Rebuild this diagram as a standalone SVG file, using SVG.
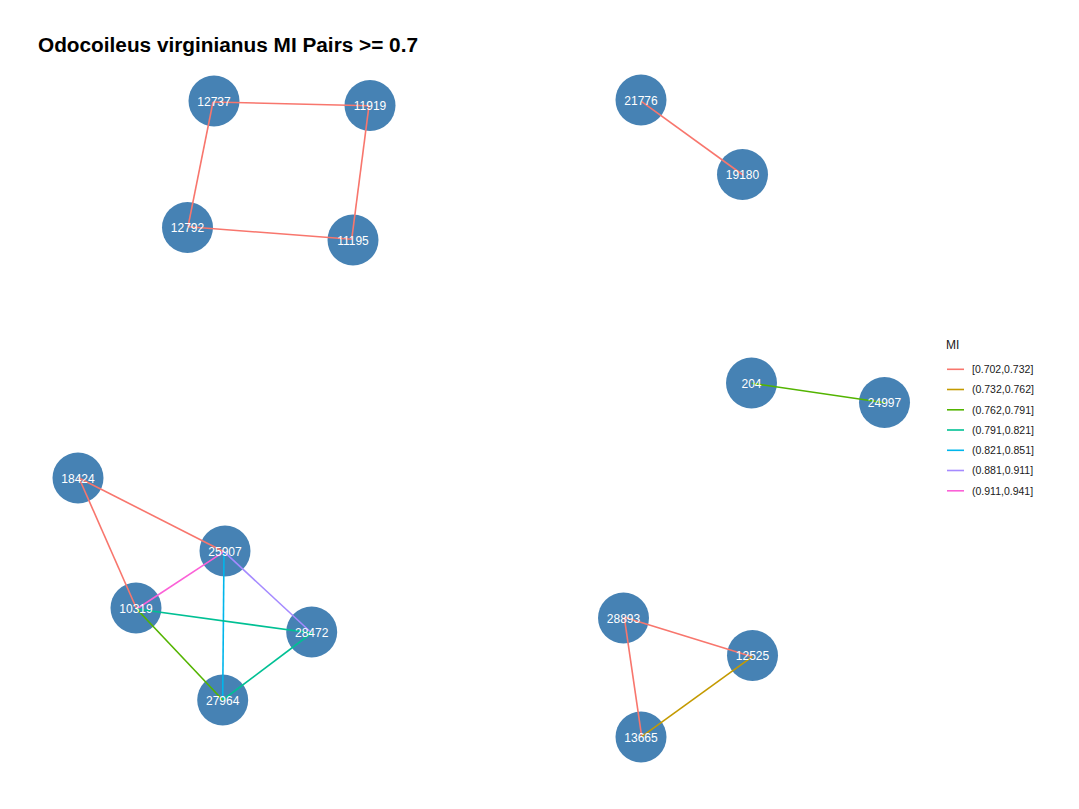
<svg xmlns="http://www.w3.org/2000/svg" width="1079" height="809" viewBox="0 0 1079 809">
<style>
.node circle{fill:#4682B4}
.node text{font-family:"Liberation Sans",Arial,sans-serif;font-size:12px;fill:#FFFFFF;text-anchor:middle}
.e{stroke-width:1.6;fill:none}
.c1{stroke:#F8766D}.c2{stroke:#C49A00}.c3{stroke:#53B400}.c4{stroke:#00C094}.c5{stroke:#00B6EB}.c6{stroke:#A58AFF}.c7{stroke:#FB61D7}
.lg{font-family:"Liberation Sans",Arial,sans-serif;font-size:10.5px;fill:#1A1A1A}
</style>
<rect width="1079" height="809" fill="#FFFFFF"/>
<text x="38" y="52" font-family="Liberation Sans,Arial,sans-serif" font-size="20" font-weight="bold" fill="#000000" textLength="380" lengthAdjust="spacingAndGlyphs">Odocoileus virginianus MI Pairs &gt;= 0.7</text>
<g id="nodes-circles">
<g id="n12737" class="node"><circle cx="214" cy="101" r="25.5"/></g>
<g id="n11919" class="node"><circle cx="370" cy="105.5" r="25.5"/></g>
<g id="n12792" class="node"><circle cx="187.5" cy="227.5" r="25.5"/></g>
<g id="n11195" class="node"><circle cx="353" cy="240" r="25.5"/></g>
<g id="n21776" class="node"><circle cx="641" cy="100" r="25.5"/></g>
<g id="n19180" class="node"><circle cx="742.5" cy="174.5" r="25.5"/></g>
<g id="n204" class="node"><circle cx="751.5" cy="383" r="25.5"/></g>
<g id="n24997" class="node"><circle cx="884.5" cy="402.5" r="25.5"/></g>
<g id="n18424" class="node"><circle cx="78" cy="478" r="25.5"/></g>
<g id="n25907" class="node"><circle cx="225" cy="551" r="25.5"/></g>
<g id="n10319" class="node"><circle cx="136" cy="608" r="25.5"/></g>
<g id="n28472" class="node"><circle cx="311.7" cy="632" r="25.5"/></g>
<g id="n27964" class="node"><circle cx="222.7" cy="700" r="25.5"/></g>
<g id="n28893" class="node"><circle cx="623.5" cy="618" r="25.5"/></g>
<g id="n12525" class="node"><circle cx="752.5" cy="655.5" r="25.5"/></g>
<g id="n13665" class="node"><circle cx="641" cy="737" r="25.5"/></g>
</g>
<g id="connectors">
<line class="e c1" x1="213" y1="102" x2="369" y2="105.7"/>
<line class="e c1" x1="213" y1="102" x2="188" y2="226.7"/>
<line class="e c1" x1="369" y1="105.7" x2="351.7" y2="239.3"/>
<line class="e c1" x1="188" y1="226.7" x2="351.7" y2="239.3"/>
<line class="e c1" x1="641.7" y1="101.7" x2="743" y2="175"/>
<line class="e c3" x1="751.7" y1="383.3" x2="885" y2="402.7"/>
<line class="e c1" x1="79" y1="478" x2="224" y2="551.7"/>
<line class="e c1" x1="79" y1="478" x2="136.7" y2="609"/>
<line class="e c7" x1="224" y1="551.7" x2="136.7" y2="609"/>
<line class="e c6" x1="224" y1="551.7" x2="311.7" y2="633"/>
<line class="e c5" x1="224" y1="551.7" x2="222.7" y2="700"/>
<line class="e c4" x1="136.7" y1="609" x2="311.7" y2="633"/>
<line class="e c3" x1="136.7" y1="609" x2="222.7" y2="700"/>
<line class="e c4" x1="311.7" y1="633" x2="222.7" y2="700"/>
<line class="e c1" x1="624.3" y1="617.3" x2="752.3" y2="656.7"/>
<line class="e c1" x1="624.3" y1="617.3" x2="641.7" y2="736.7"/>
<line class="e c2" x1="752.3" y1="656.7" x2="641.7" y2="736.7"/>
</g>
<g id="labels" class="node">
<text x="214" y="105.5">12737</text>
<text x="370" y="110">11919</text>
<text x="187.5" y="232">12792</text>
<text x="353" y="244.5">11195</text>
<text x="641" y="104.5">21776</text>
<text x="742.5" y="179">19180</text>
<text x="751.5" y="387.5">204</text>
<text x="884.5" y="407">24997</text>
<text x="78" y="482.5">18424</text>
<text x="225" y="555.5">25907</text>
<text x="136" y="612.5">10319</text>
<text x="311.7" y="636.5">28472</text>
<text x="222.7" y="704.5">27964</text>
<text x="623.5" y="622.5">28893</text>
<text x="752.5" y="660">12525</text>
<text x="641" y="741.5">13665</text>
</g>
<g id="legend">
<text x="946" y="349" font-family="Liberation Sans,Arial,sans-serif" font-size="12" fill="#1A1A1A">MI</text>
<line class="e c1" x1="947" y1="369.3" x2="964" y2="369.3"/>
<line class="e c2" x1="947" y1="389.5" x2="964" y2="389.5"/>
<line class="e c3" x1="947" y1="409.8" x2="964" y2="409.8"/>
<line class="e c4" x1="947" y1="430" x2="964" y2="430"/>
<line class="e c5" x1="947" y1="450.3" x2="964" y2="450.3"/>
<line class="e c6" x1="947" y1="470.5" x2="964" y2="470.5"/>
<line class="e c7" x1="947" y1="490.8" x2="964" y2="490.8"/>
<text class="lg" x="972" y="373">[0.702,0.732]</text>
<text class="lg" x="972" y="393.2">(0.732,0.762]</text>
<text class="lg" x="972" y="413.5">(0.762,0.791]</text>
<text class="lg" x="972" y="433.7">(0.791,0.821]</text>
<text class="lg" x="972" y="454">(0.821,0.851]</text>
<text class="lg" x="972" y="474.2">(0.881,0.911]</text>
<text class="lg" x="972" y="494.5">(0.911,0.941]</text>
</g>
</svg>
